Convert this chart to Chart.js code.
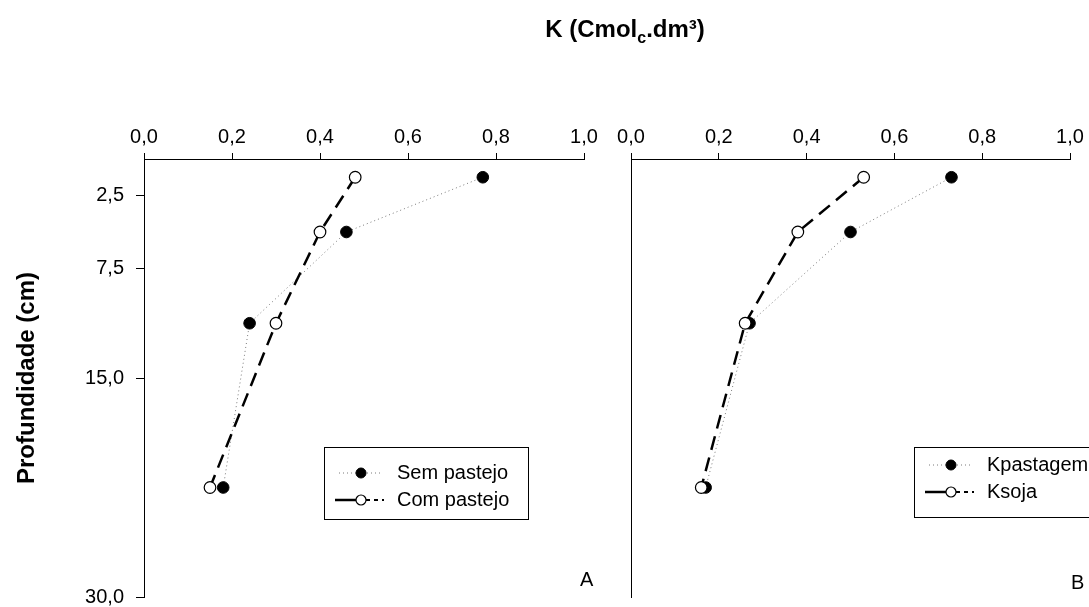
<!DOCTYPE html>
<html>
<head>
<meta charset="utf-8">
<script src="https://cdn.jsdelivr.net/npm/chart.js@4/dist/chart.umd.min.js"></script>
<style>
  html, body { margin: 0; padding: 0; background: #fff; }
  #wrap { position: relative; width: 1089px; height: 607px; overflow: hidden; font-family: "Liberation Sans", Arial, sans-serif; color: #000; }
  canvas { position: absolute; left: 0; top: 0; }
  .lbl { position: absolute; white-space: nowrap; }
  #title { left: 625px; top: 17px; transform: translateX(-50%); font-weight: bold; font-size: 24px; line-height: 24px; }
  #title sub { font-size: 16px; vertical-align: -6px; line-height: 0; }
  #ytitle { left: 26px; top: 378px; transform: translate(-50%, -50%) rotate(-90deg); font-weight: bold; font-size: 24px; line-height: 26px; }
  #pa { left: 580px; top: 569px; font-size: 20px; line-height: 20px; }
  #pb { left: 1071px; top: 572px; font-size: 20px; line-height: 20px; }
</style>
</head>
<body>
<div id="wrap">
  <canvas id="cA" width="1089" height="607"></canvas>
  <canvas id="cB" width="1089" height="607"></canvas>
  <div class="lbl" id="title">K (Cmol<sub>c</sub>.dm³)</div>
  <div class="lbl" id="ytitle">Profundidade (cm)</div>
  <div class="lbl" id="pa">A</div>
  <div class="lbl" id="pb">B</div>
</div>
<script>
// ---- data ----
const depths = [1.25, 5, 11.25, 22.5];
const semPastejo = [0.77, 0.46, 0.24, 0.18];
const comPastejo = [0.48, 0.40, 0.30, 0.15];
const kPastagem = [0.73, 0.50, 0.27, 0.17];
const kSoja = [0.53, 0.38, 0.26, 0.16];
const xTickValues = [0, 0.2, 0.4, 0.6, 0.8, 1.0];
const yTickValues = [2.5, 7.5, 15, 30];
const labelsA = ['Sem pastejo', 'Com pastejo'];
const labelsB = ['Kpastagem', 'Ksoja'];

const FONT = '"Liberation Sans", Arial, sans-serif';
const fmt = v => Number(v).toFixed(1).replace('.', ',');
const pts = vals => depths.map((d, i) => ({ x: vals[i], y: d }));

function filledSet(label, vals) {
  return {
    label, data: pts(vals), showLine: true, order: 1,
    borderColor: '#7a7a7a', borderWidth: 1, borderDash: [1, 3],
    pointRadius: 5.8, pointBackgroundColor: '#000', pointBorderColor: '#000', pointBorderWidth: 1
  };
}
function openSet(label, vals) {
  return {
    label, data: pts(vals), showLine: true, order: 0,
    borderColor: '#000', borderWidth: 2.5, borderDash: [14, 8],
    pointRadius: 5.8, pointBackgroundColor: '#fff', pointBorderColor: '#000', pointBorderWidth: 1.2
  };
}

const boxLegend = {
  id: 'boxLegend',
  afterDraw(chart, args, opts) {
    const ctx = chart.ctx;
    ctx.save();
    ctx.strokeStyle = '#000';
    ctx.lineWidth = 1;
    ctx.strokeRect(opts.x + 0.5, opts.y + 0.5, opts.w, opts.h);
    const items = [chart.data.datasets[0], chart.data.datasets[1]];
    items.forEach((ds, i) => {
      const cy = opts.rowY[i];
      const mx = opts.markerX;
      ctx.save();
      ctx.strokeStyle = ds.borderColor;
      ctx.lineWidth = ds.borderWidth;
      ctx.beginPath();
      if (i === 1) {
        ctx.setLineDash([]);
        ctx.moveTo(mx - 26, cy); ctx.lineTo(mx - 5, cy);
        ctx.stroke();
        ctx.beginPath();
        ctx.lineWidth = 2;
        ctx.setLineDash([4, 4]);
        ctx.moveTo(mx + 5, cy); ctx.lineTo(mx + 23, cy);
      } else {
        ctx.setLineDash(ds.borderDash);
        ctx.moveTo(mx - 22, cy); ctx.lineTo(mx + 22, cy);
      }
      ctx.stroke();
      ctx.restore();
      ctx.beginPath();
      ctx.arc(mx, cy, 5, 0, Math.PI * 2);
      ctx.fillStyle = ds.pointBackgroundColor;
      ctx.fill();
      ctx.lineWidth = ds.pointBorderWidth;
      ctx.strokeStyle = ds.pointBorderColor;
      ctx.stroke();
      ctx.fillStyle = '#000';
      ctx.font = '20px ' + FONT;
      ctx.textBaseline = 'middle';
      ctx.textAlign = 'left';
      ctx.fillText(ds.label, opts.textX, cy);
    });
    ctx.restore();
  }
};

function makeChart(id, labels, s1, s2, padding, yWidth, showYTicks, legendOpts) {
  return new Chart(document.getElementById(id), {
    type: 'scatter',
    data: { datasets: [filledSet(labels[0], s1), openSet(labels[1], s2)] },
    options: {
      responsive: false, animation: false, devicePixelRatio: 1,
      layout: { padding },
      plugins: { legend: { display: false }, tooltip: { enabled: false }, boxLegend: legendOpts },
      scales: {
        x: {
          type: 'linear', position: 'top', min: 0, max: 1,
          afterBuildTicks: s => { s.ticks = xTickValues.map(v => ({ value: v })); },
          afterFit: s => { s.height = 159 - padding.top; s.paddingLeft = 0; s.paddingRight = 0; },
          ticks: { callback: v => fmt(v), font: { family: FONT, size: 20 }, color: '#000', padding: 4, maxRotation: 0 },
          grid: { display: true, drawOnChartArea: false, drawTicks: true, tickLength: 6, color: '#000', lineWidth: 1 },
          border: { display: true, color: '#000', width: 1 }
        },
        y: {
          type: 'linear', min: 0, max: 30, reverse: true,
          afterBuildTicks: s => { s.ticks = yTickValues.map(v => ({ value: v })); },
          afterFit: s => { s.width = yWidth; s.paddingTop = 0; s.paddingBottom = 0; },
          ticks: { display: showYTicks, callback: v => fmt(v), font: { family: FONT, size: 20 }, color: '#000', padding: 12 },
          grid: { display: showYTicks, drawOnChartArea: false, drawTicks: true, tickLength: 8, color: '#000', lineWidth: 1 },
          border: { display: true, color: '#000', width: 1 }
        }
      }
    },
    plugins: [boxLegend]
  });
}

makeChart('cA', labelsA, semPastejo, comPastejo,
  { left: 0, top: 0, right: 1089 - 584, bottom: 10 }, 144, true,
  { x: 324, y: 447, w: 204, h: 72, rowY: [473, 500], markerX: 361, textX: 397 });

makeChart('cB', labelsB, kPastagem, kSoja,
  { left: 0, top: 0, right: 1089 - 1070, bottom: 10 }, 631, false,
  { x: 914, y: 447, w: 300, h: 70, rowY: [465, 492], markerX: 951, textX: 987 });
</script>
</body>
</html>
